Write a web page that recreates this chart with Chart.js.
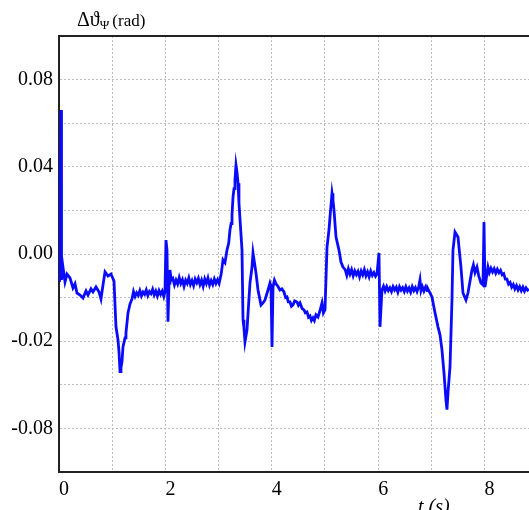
<!DOCTYPE html>
<html>
<head>
<meta charset="utf-8">
<script src="https://cdn.jsdelivr.net/npm/chart.js@4.4.1/dist/chart.umd.min.js"></script>
<style>
  html, body { margin: 0; padding: 0; background: #fff; }
  #wrap { width: 529px; height: 510px; }
</style>
</head>
<body>
<div id="wrap"><canvas id="chart" width="529" height="510"></canvas></div>
<script>
// time (s) and deviation (rad)
const timeValues = [
  0.01, 0.038, 0.047, 0.075, 0.113, 0.150, 0.207, 0.263, 0.301, 0.338,
  0.395, 0.451, 0.508, 0.545, 0.602, 0.639, 0.695, 0.752, 0.789, 0.827,
  0.865, 0.921, 0.977, 1.034, 1.071, 1.109, 1.128, 1.147, 1.165, 1.184,
  1.203, 1.241, 1.259, 1.297, 1.335, 1.372, 1.40, 1.43, 1.46, 1.49,
  1.52, 1.55, 1.58, 1.61, 1.64, 1.67, 1.70, 1.73, 1.76, 1.79,
  1.82, 1.85, 1.88, 1.91, 1.94, 1.97, 1.992, 2.011, 2.030, 2.049,
  2.068, 2.086, 2.11, 2.14, 2.17, 2.20, 2.23, 2.26, 2.29, 2.32,
  2.35, 2.38, 2.41, 2.44, 2.47, 2.50, 2.53, 2.56, 2.59, 2.62,
  2.65, 2.68, 2.71, 2.74, 2.77, 2.80, 2.83, 2.86, 2.89, 2.92,
  2.95, 2.98, 3.01, 3.05, 3.083, 3.12, 3.158, 3.19, 3.214, 3.235,
  3.252, 3.271, 3.29, 3.308, 3.327, 3.346, 3.365, 3.383, 3.440, 3.459,
  3.477, 3.496, 3.534, 3.590, 3.628, 3.647, 3.703, 3.741, 3.797, 3.835,
  3.872, 3.929, 3.966, 3.985, 4.004, 4.023, 4.05, 4.079, 4.12, 4.154,
  4.19, 4.229, 4.26, 4.286, 4.31, 4.342, 4.37, 4.398, 4.43, 4.474,
  4.50, 4.530, 4.57, 4.605, 4.63, 4.662, 4.69, 4.718, 4.745, 4.774,
  4.80, 4.831, 4.868, 4.90, 4.944, 4.97, 5.000, 5.038, 5.075, 5.094,
  5.132, 5.150, 5.169, 5.207, 5.263, 5.301, 5.338, 5.38, 5.41, 5.44,
  5.47, 5.50, 5.53, 5.56, 5.59, 5.62, 5.65, 5.68, 5.71, 5.74,
  5.77, 5.80, 5.83, 5.86, 5.89, 5.92, 5.95, 5.977, 6.015, 6.034,
  6.071, 6.10, 6.13, 6.16, 6.19, 6.22, 6.25, 6.28, 6.31, 6.34,
  6.37, 6.40, 6.43, 6.46, 6.49, 6.52, 6.55, 6.58, 6.61, 6.64,
  6.67, 6.70, 6.73, 6.76, 6.786, 6.805, 6.83, 6.86, 6.89, 6.92,
  6.936, 7.011, 7.068, 7.124, 7.162, 7.199, 7.237, 7.274, 7.293, 7.312,
  7.350, 7.387, 7.406, 7.444, 7.500, 7.556, 7.594, 7.650, 7.688, 7.763,
  7.79, 7.82, 7.857, 7.89, 7.932, 7.970, 7.989, 8.008, 8.064, 8.09,
  8.12, 8.15, 8.18, 8.21, 8.24, 8.27, 8.30, 8.33, 8.36, 8.39,
  8.42, 8.45, 8.48, 8.51, 8.54, 8.57, 8.60, 8.63, 8.66, 8.69,
  8.72, 8.75, 8.78, 8.81, 8.835
];
const thetaValues = [
  -0.0128, 0.0660, -0.0119, -0.0060, -0.0128, -0.0092, -0.0110, -0.0156, -0.0137, -0.0179,
  -0.0188, -0.0202, -0.0169, -0.0188, -0.0160, -0.0174, -0.0151, -0.0174, -0.0206, -0.0142,
  -0.0082, -0.0101, -0.0092, -0.0124, -0.0334, -0.0394, -0.0449, -0.0540, -0.0522, -0.0495,
  -0.0426, -0.0385, -0.0362, -0.0270, -0.0229, -0.0206, -0.0172, -0.0195, -0.0178, -0.0190,
  -0.0168, -0.0192, -0.0175, -0.0185, -0.0165, -0.0190, -0.0172, -0.0182, -0.0162, -0.0188,
  -0.0170, -0.0193, -0.0168, -0.0185, -0.0170, -0.0195, -0.0174, 0.0064, 0.0018, -0.0311,
  -0.0133, -0.0073, -0.0120, -0.0112, -0.0142, -0.0120, -0.0138, -0.0108, -0.0135, -0.0118,
  -0.0148, -0.0120, -0.0135, -0.0110, -0.0140, -0.0122, -0.0145, -0.0115, -0.0132, -0.0112,
  -0.0140, -0.0120, -0.0148, -0.0115, -0.0135, -0.0110, -0.0142, -0.0122, -0.0140, -0.0115,
  -0.0135, -0.0118, -0.0135, -0.0090, -0.0027, -0.0040, 0.0018, 0.0050, 0.0110, 0.0140,
  0.0179, 0.0261, 0.0300, 0.0339, 0.0408, 0.0375, 0.0325, 0.0234, 0.0018, -0.0302,
  -0.0339, -0.0403, -0.0348, -0.0133, -0.0060, 0.0005, -0.0087, -0.0165, -0.0234, -0.0224,
  -0.0211, -0.0165, -0.0133, -0.0147, -0.0426, -0.0151, -0.0120, -0.0137, -0.0150, -0.0165,
  -0.0160, -0.0174, -0.0200, -0.0197, -0.0220, -0.0220, -0.0240, -0.0234, -0.0215, -0.0220,
  -0.0235, -0.0224, -0.0250, -0.0256, -0.0270, -0.0266, -0.0290, -0.0284, -0.0305, -0.0293,
  -0.0305, -0.0279, -0.0289, -0.0265, -0.0224, -0.0270, -0.0256, 0.0032, 0.0110, 0.0169,
  0.0279, 0.0247, 0.0202, 0.0078, 0.0018, -0.0037, -0.0060, -0.0072, -0.0098, -0.0068,
  -0.0092, -0.0072, -0.0100, -0.0078, -0.0095, -0.0080, -0.0105, -0.0078, -0.0096, -0.0072,
  -0.0100, -0.0082, -0.0105, -0.0078, -0.0098, -0.0085, -0.0102, -0.0092, 0.0005, -0.0334,
  -0.0165, -0.0148, -0.0170, -0.0150, -0.0168, -0.0155, -0.0172, -0.0150, -0.0165, -0.0152,
  -0.0175, -0.0150, -0.0166, -0.0155, -0.0172, -0.0150, -0.0170, -0.0156, -0.0175, -0.0150,
  -0.0168, -0.0154, -0.0172, -0.0152, -0.0119, -0.0168, -0.0150, -0.0170, -0.0152, -0.0168,
  -0.0160, -0.0197, -0.0270, -0.0334, -0.0371, -0.0440, -0.0545, -0.0669, -0.0714, -0.0637,
  -0.0518, -0.0211, 0.0018, 0.0101, 0.0078, -0.0060, -0.0179, -0.0211, -0.0179, -0.0073,
  -0.0050, -0.0085, -0.0060, -0.0100, -0.0133, -0.0142, 0.0147, -0.0151, -0.0060, -0.0085,
  -0.0065, -0.0082, -0.0068, -0.0088, -0.0070, -0.0086, -0.0075, -0.0095, -0.0090, -0.0115,
  -0.0115, -0.0138, -0.0130, -0.0152, -0.0140, -0.0160, -0.0145, -0.0165, -0.0150, -0.0168,
  -0.0152, -0.0170, -0.0155, -0.0166, -0.0160
];

// axis ticks
const xTickValues = [0, 2, 4, 6, 8];
const yTickValues = [0.08, 0.04, 0, -0.04, -0.08];
const yTickLabels = ['0.08', '0.04', '0.00', '-0.02', '-0.08'];

const points = timeValues.map((t, i) => ({ x: t, y: thetaValues[i] }));
const serif = '"Liberation Serif", "DejaVu Serif", serif';

// top frame line + axis captions
const decorations = {
    id: 'decorations',
    afterDraw(chart) {
        const ctx = chart.ctx;
        const area = chart.chartArea;
        ctx.save();
        ctx.strokeStyle = '#222';
        ctx.lineWidth = 2;
        ctx.beginPath();
        ctx.moveTo(area.left, area.top);
        ctx.lineTo(area.right, area.top);
        ctx.stroke();

        ctx.fillStyle = '#000';
        ctx.textBaseline = 'alphabetic';
        ctx.textAlign = 'left';
        ctx.font = '20px ' + serif;
        ctx.fillText('\u0394\u03D1', 77, 26);
        let w = ctx.measureText('\u0394\u03D1').width;
        ctx.font = '13px ' + serif;
        ctx.fillText('\u03A8', 77 + w, 29);
        w += ctx.measureText('\u03A8').width + 3;
        ctx.font = '17px ' + serif;
        ctx.fillText('(rad)', 77 + w, 26);

        ctx.font = 'italic 20px ' + serif;
        ctx.fillText('t (s)', 418, 513);
        ctx.restore();
    }
};

new Chart(document.getElementById('chart'), {
    type: 'scatter',
    data: {
        datasets: [{
            data: points,
            showLine: true,
            borderColor: 'rgb(10, 10, 255)',
            borderWidth: 2.8,
            pointRadius: 0,
            tension: 0
        }]
    },
    options: {
        responsive: false,
        animation: false,
        layout: { padding: { top: 36, right: 0, left: 0, bottom: 0 } },
        plugins: { legend: { display: false }, tooltip: { enabled: false } },
        scales: {
            x: {
                type: 'linear',
                min: 0,
                max: 8.835,
                afterFit(scale) { scale.height = 38; },
                afterBuildTicks(scale) {
                    scale.ticks = [0, 1, 2, 3, 4, 5, 6, 7, 8].map(v => ({ value: v }));
                },
                ticks: {
                    align: 'start',
                    padding: 6,
                    color: '#000',
                    font: { family: serif, size: 20 },
                    callback: v => xTickValues.includes(v) ? String(v) : ''
                },
                grid: {
                    color: '#bcbcbc',
                    lineWidth: 1,
                    drawTicks: false
                },
                border: { display: true, color: '#222', width: 2, dash: [2, 2] }
            },
            y: {
                type: 'linear',
                min: -0.1,
                max: 0.1,
                afterFit(scale) { scale.width = 59; },
                ticks: {
                    stepSize: 0.02,
                    padding: 6,
                    color: '#000',
                    font: { family: serif, size: 20 },
                    callback: v => {
                        const i = yTickValues.findIndex(t => Math.abs(t - v) < 1e-6);
                        return i >= 0 ? yTickLabels[i] : '';
                    }
                },
                grid: {
                    color: '#bcbcbc',
                    lineWidth: 1,
                    drawTicks: false
                },
                border: { display: true, color: '#222', width: 2, dash: [2, 2] }
            }
        }
    },
    plugins: [decorations]
});
</script>
</body>
</html>
